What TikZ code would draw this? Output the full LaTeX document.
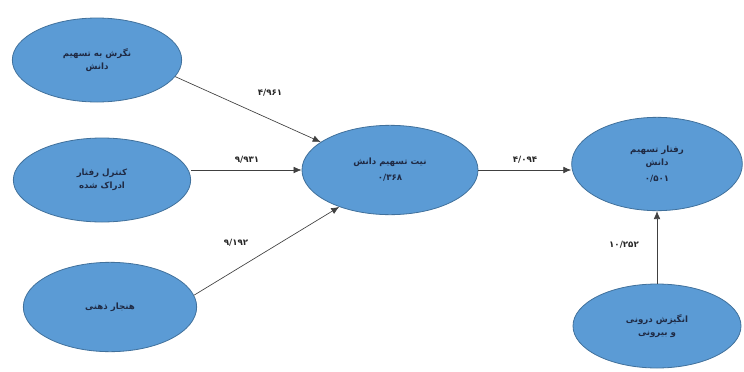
\documentclass[tikz,border=0pt]{standalone}
\usepackage{fontspec}
\newfontfamily\arabicfont[Script=Arabic]{DejaVu Sans}
\TeXXeTstate=1
\usetikzlibrary{shapes.geometric,arrows.meta}
\definecolor{ovalfill}{HTML}{5B9BD5}
\definecolor{ovalline}{HTML}{41719C}
\definecolor{ovaltext}{HTML}{1F2A44}
\newcommand{\fa}[1]{{\arabicfont\beginR #1\endR}}
\tikzset{
  oval/.style={ellipse, draw=ovalline, fill=ovalfill, line width=0.6pt,
    text=ovaltext, align=center, inner sep=0pt,
    font=\bfseries\fontsize{6.5}{10}\selectfont},
  path/.style={draw=black!75, line width=0.5pt, -{Latex[length=6pt,width=5pt]}},
  weight/.style={font=\arabicfont\bfseries\fontsize{6.5}{8}\selectfont, text=black!85}
}
\begin{document}
\begin{tikzpicture}[x=0.75pt,y=-0.75pt]
        \useasboundingbox (0,0) rectangle (744,372);
        % predictors
        \node[oval, minimum width=127pt, minimum height=63pt] (nagaresh) at (97,60) {\fa{نگرش به تسهیم}\\\fa{دانش}};
        \node[oval, minimum width=133pt, minimum height=63pt] (kontrol) at (102,180) {\fa{کنترل رفتار}\\\fa{ادراک شده}};
        \node[oval, minimum width=130pt, minimum height=67pt] (hanjar) at (110,307) {\fa{هنجار ذهنی}};
        % intention and behaviour
        \node[oval, minimum width=132pt, minimum height=67pt] (niyat) at (390,170) {\fa{نیت تسهیم دانش}\\[2pt]\fa{۰/۳۶۸}};
        \node[oval, minimum width=128pt, minimum height=70pt] (raftar) at (657,164) {\fa{رفتار تسهیم}\\\fa{دانش}\\[2pt]\fa{۰/۵۰۱}};
        \node[oval, minimum width=126pt, minimum height=63pt] (angizesh) at (657,326) {\fa{انگیزش درونی}\\\fa{و بیرونی}};
        % paths
        \draw[path] (nagaresh.-12) -- (niyat.158);
        \draw[path] (niyat.west -| kontrol.east) -- (niyat.west);
        \draw[path] (hanjar.8) -- (niyat.-144);
        \draw[path] (niyat.east) -- (niyat.east -| raftar.west);
        \draw[path] (angizesh.north) -- (raftar.south);
        % t values
        \node[weight] (w1) at (270,93) {۴/۹۶۱};
        \node[weight] (w2) at (247,160) {۹/۹۳۱};
        \node[weight] (w3) at (236,243) {۹/۱۹۲};
        \node[weight] (w4) at (525,160) {۴/۰۹۴};
        \node[weight] (w5) at (624,245) {۱۰/۲۵۲};
    \end{tikzpicture}
\end{document}
